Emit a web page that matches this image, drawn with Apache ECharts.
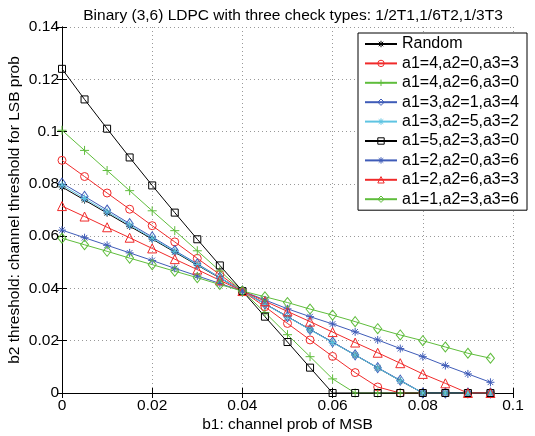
<!DOCTYPE html>
<html>
<head>
<meta charset="utf-8">
<script src="https://cdn.jsdelivr.net/npm/echarts@6/dist/echarts.min.js"></script>
<style>html,body{margin:0;padding:0;background:#fff}#c{width:535px;height:436px}</style>
</head>
<body>
<div id="c"></div>
<script>
var b1 = [0,0.005,0.01,0.015,0.02,0.025,0.03,0.035,0.04,0.045,0.05,0.055,0.06,0.065,0.07,0.075,0.08,0.085,0.09,0.095];
var xTicks = [0,0.02,0.04,0.06,0.08,0.1];
var yTicks = [0,0.02,0.04,0.06,0.08,0.1,0.12,0.14];

var random = [0.0788,0.0738,0.0688,0.0638,0.0589,0.0539,0.0489,0.0440,0.0390,0.0341,0.0292,0.0243,0.0194,0.0145,0.0096,0.0047,0,0,0,0];
var s403 = [0.0890,0.0828,0.0765,0.0703,0.0640,0.0578,0.0515,0.0453,0.0390,0.0330,0.0266,0.0203,0.0140,0.0078,0.0023,0,0,0,0,0];
var s460 = [0.1005,0.0928,0.0851,0.0774,0.0697,0.0621,0.0544,0.0467,0.0390,0.0308,0.0223,0.0139,0.0054,0,0,0,0,0,0,0];
var s314 = [0.0803,0.0752,0.0700,0.0648,0.0597,0.0545,0.0494,0.0442,0.0390,0.0341,0.0292,0.0243,0.0195,0.0146,0.0097,0.0049,0,0,0,0];
var s352 = [0.0795,0.0744,0.0693,0.0643,0.0592,0.0542,0.0491,0.0441,0.0390,0.0340,0.0291,0.0242,0.0193,0.0145,0.0096,0.0047,0,0,0,0];
var s530 = [0.1240,0.1123,0.1011,0.0901,0.0794,0.0690,0.0588,0.0488,0.0390,0.0292,0.0195,0.0097,0,0,0,0,0,0,0,0];
var s206 = [0.0623,0.0594,0.0565,0.0536,0.0507,0.0477,0.0448,0.0419,0.0390,0.0356,0.0322,0.0292,0.0264,0.0234,0.0203,0.0170,0.0139,0.0105,0.0073,0.0041];
var s263 = [0.0715,0.0675,0.0634,0.0594,0.0553,0.0512,0.0472,0.0431,0.0390,0.0351,0.0312,0.0273,0.0233,0.0193,0.0154,0.0114,0.0073,0.0037,0,0];
var s136 = [0.0592,0.0567,0.0542,0.0516,0.0491,0.0466,0.0441,0.0415,0.0390,0.0368,0.0346,0.0321,0.0298,0.0273,0.0246,0.0222,0.0200,0.0176,0.0152,0.0133];

var names = ['Random','a1=4,a2=0,a3=3','a1=4,a2=6,a3=0','a1=3,a2=1,a3=4','a1=3,a2=5,a3=2','a1=5,a2=3,a3=0','a1=2,a2=0,a3=6','a1=2,a2=6,a3=3','a1=1,a2=3,a3=6'];
var values = [random,s403,s460,s314,s352,s530,s206,s263,s136];

var RED='#f02a2a', GREEN='#5fbd3c', BLUE='#3f5cb8', CYAN='#5ec4e2', BLACK='#000000';
var STAR='path://M5,0L5,10M0,5L10,5M1.5,1.5L8.5,8.5M1.5,8.5L8.5,1.5';
var PLUS='path://M5,0L5,10M0,5L10,5';
var styles = [
  {c:BLACK, s:STAR, z:7},
  {c:RED, s:'circle', z:8},
  {c:GREEN, s:PLUS, z:9},
  {c:BLUE, s:'diamond', z:[7,10]},
  {c:CYAN, s:STAR, z:8},
  {c:BLACK, s:'rect', z:7},
  {c:BLUE, s:STAR, z:8},
  {c:RED, s:'triangle', z:9},
  {c:GREEN, s:'diamond', z:[8,10]}
];

var FONT = 'Liberation Sans, Arial, Helvetica, sans-serif';
var series = names.map(function(n,i){
  var st = styles[i];
  return {
    name:n, type:'line', data: b1.map(function(x,j){return [x, values[i][j]];}),
    symbol: st.s, symbolSize: st.z, showSymbol:true, showAllSymbol:true,
    lineStyle:{color:st.c, width:1},
    itemStyle:{color:'rgba(255,255,255,0)', borderColor:st.c, borderWidth:1},
    emphasis:{disabled:true}, animation:false
  };
});
var legendData = names.map(function(n,i){
  return {name:n, itemStyle:{color:'rgba(255,255,255,0)', borderColor:styles[i].c, borderWidth:1}};
});

function fmt(v){ return String(+v.toFixed(2)); }

var chart = echarts.init(document.getElementById('c'), null, {renderer:'canvas'});
chart.setOption({
  backgroundColor:'#fff',
  animation:false,
  title:{text:'Binary (3,6) LDPC with three check types: 1/2T1,1/6T2,1/3T3', left:288, textAlign:'center', top:3,
    textStyle:{fontFamily:FONT, fontSize:15.5, fontWeight:'normal', color:'#000'}},
  legend:{
    orient:'vertical', left:358, top:33, padding:[3,8,3,6], itemGap:3.4, itemWidth:32, itemHeight:8,
    borderColor:'#000', borderWidth:1, backgroundColor:'#fff',
    textStyle:{fontFamily:FONT, fontSize:16, lineHeight:16, color:'#000', padding:[0,0,0,0]},
    data:legendData
  },
  grid:{left:62, right:22, top:27, bottom:43, containLabel:false, outerBoundsMode:'none'},
  xAxis:[{
    type:'value', min:0, max:0.1, interval:0.02,
    name:'b1: channel prob of MSB', nameLocation:'middle', nameGap:24, nameMoveOverlap:false,
    nameTextStyle:{fontFamily:FONT, fontSize:15.5, color:'#000'},
    axisLine:{lineStyle:{color:'#000', width:1}},
    axisTick:{inside:true, length:5, lineStyle:{color:'#000'}},
    axisLabel:{formatter:fmt, fontFamily:FONT, fontSize:15.5, color:'#000', margin:5},
    splitLine:{show:true, lineStyle:{color:'#999', type:[1,3], width:1}}
  },{
    type:'value', position:'top', min:0, max:0.1, interval:0.02,
    axisLine:{lineStyle:{color:'#000'}}, axisTick:{inside:true, length:5, lineStyle:{color:'#000'}},
    axisLabel:{show:false}, splitLine:{show:false}
  }],
  yAxis:[{
    type:'value', min:0, max:0.14, interval:0.02,
    name:'b2 threshold: channel threshold for LSB prob', nameLocation:'middle', nameGap:39, nameMoveOverlap:false,
    nameTextStyle:{fontFamily:FONT, fontSize:15.5, color:'#000'},
    axisLine:{lineStyle:{color:'#000', width:1}},
    axisTick:{inside:true, length:5, lineStyle:{color:'#000'}},
    axisLabel:{formatter:fmt, fontFamily:FONT, fontSize:15.5, color:'#000', margin:3},
    splitLine:{show:true, lineStyle:{color:'#999', type:[1,3], width:1}}
  },{
    type:'value', position:'right', min:0, max:0.14, interval:0.02,
    axisLine:{lineStyle:{color:'#000'}}, axisTick:{inside:true, length:5, lineStyle:{color:'#000'}},
    axisLabel:{show:false}, splitLine:{show:false}
  }],
  series:series
});
</script>
</body>
</html>
